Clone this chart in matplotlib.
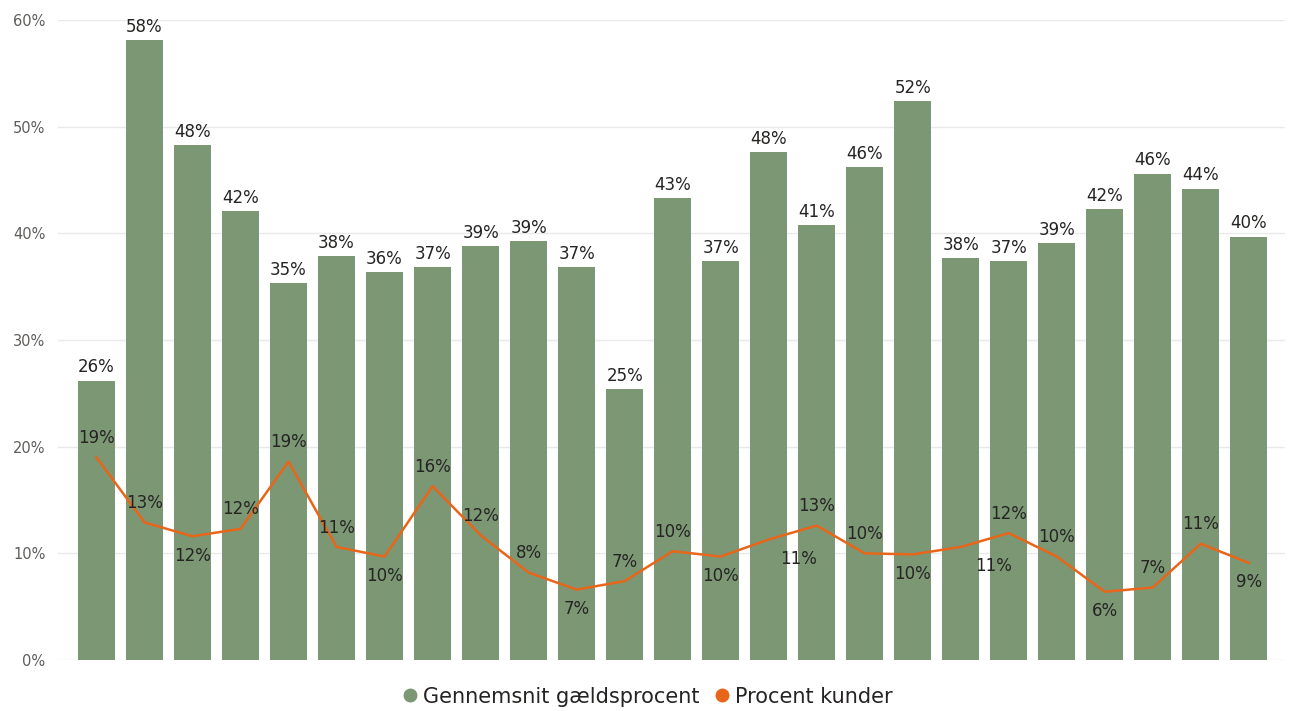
import matplotlib.pyplot as plt
from matplotlib.lines import Line2D
import numpy as np

# data (percent)
gaeld = [26.2, 58.1, 48.3, 42.1, 35.3, 37.9, 36.4, 36.8, 38.8, 39.3, 36.8, 25.4, 43.3,
         37.4, 47.6, 40.8, 46.2, 52.4, 37.7, 37.4, 39.1, 42.3, 45.6, 44.2, 39.7]
kunder = [19.0, 12.9, 11.6, 12.3, 18.6, 10.6, 9.7, 16.3, 11.7, 8.2, 6.6, 7.4, 10.2,
          9.7, 11.3, 12.6, 10.0, 9.9, 10.6, 11.9, 9.7, 6.4, 6.8, 10.9, 9.1]
y_ticks = [0, 10, 20, 30, 40, 50, 60]

# label placement for the line: 1 = above, -1 = below, plus sideways nudge (px)
side = [1, 1, -1, 1, 1, 1, -1, 1, 1, 1, -1, 1, 1, -1, -1, 1, 1, -1, -1, 1, 1, -1, 1, 1, -1]
nudge = [0] * 25
nudge[14] = 30
nudge[18] = 33

green = '#7B9774'
orange = '#E8661A'
txt = '#252423'

fig = plt.figure(figsize=(12.9, 7.11), dpi=100)
ax = fig.add_axes([0.045, 0.0717, 0.951, 0.9002])

x = np.arange(len(gaeld))
ax.bar(x, gaeld, width=0.77, color=green, zorder=2)
ax.plot(x, kunder, color=orange, linewidth=1.8, zorder=3)

for i, v in enumerate(gaeld):
    ax.annotate(f"{round(v)}%", (i, v), xytext=(0, 3), textcoords='offset points',
                ha='center', va='bottom', fontsize=12, color=txt, clip_on=False)

for i, v in enumerate(kunder):
    ax.annotate(f"{round(v)}%", (i, v), xytext=(nudge[i] * 0.72, side[i] * 14),
                textcoords='offset points', ha='center', va='center',
                fontsize=12, color=txt, zorder=4)

ax.set_xlim(-0.8, 24.75)
ax.set_ylim(0, 60)
ax.set_yticks(y_ticks)
ax.set_yticklabels([f"{t}%" for t in y_ticks])
ax.tick_params(axis='y', length=0, pad=9, labelsize=10.5, labelcolor='#605E5C')
ax.set_xticks([])
ax.grid(axis='y', color='#EAEAEA', linewidth=1, zorder=0)
for s in ax.spines.values():
    s.set_visible(False)

handles = [Line2D([], [], marker='o', linestyle='', color=green, markersize=9),
           Line2D([], [], marker='o', linestyle='', color=orange, markersize=9)]
fig.legend(handles, ['Gennemsnit gældsprocent', 'Procent kunder'], loc='center',
           bbox_to_anchor=(0.5, 0.02), ncol=2, frameon=False, fontsize=15,
           handletextpad=0.0, columnspacing=0.5, handlelength=1.2, labelcolor=txt)

fig.savefig('out.png', dpi=100)
